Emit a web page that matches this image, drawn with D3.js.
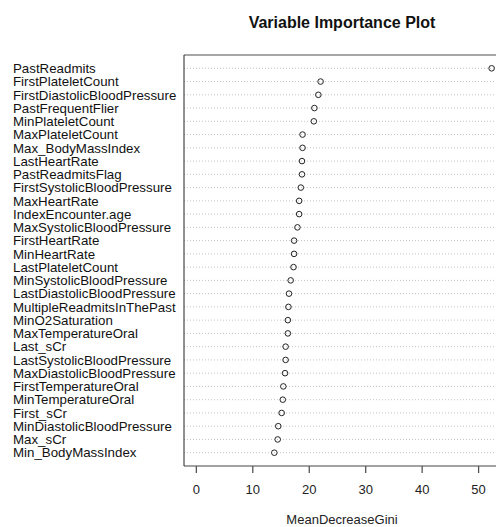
<!DOCTYPE html>
<html>
<head>
<meta charset="utf-8">
<script src="https://cdn.jsdelivr.net/npm/d3@7"></script>
<style>
  body { margin: 0; background: #fff; }
  text { font-family: "Liberation Sans", Arial, sans-serif; }
</style>
</head>
<body>
<div id="graph"></div>
<script>
// variable names, top to bottom
let variables = ["PastReadmits", "FirstPlateletCount", "FirstDiastolicBloodPressure", "PastFrequentFlier",
  "MinPlateletCount", "MaxPlateletCount", "Max_BodyMassIndex", "LastHeartRate", "PastReadmitsFlag",
  "FirstSystolicBloodPressure", "MaxHeartRate", "IndexEncounter.age", "MaxSystolicBloodPressure",
  "FirstHeartRate", "MinHeartRate", "LastPlateletCount", "MinSystolicBloodPressure",
  "LastDiastolicBloodPressure", "MultipleReadmitsInThePast", "MinO2Saturation", "MaxTemperatureOral",
  "Last_sCr", "LastSystolicBloodPressure", "MaxDiastolicBloodPressure", "FirstTemperatureOral",
  "MinTemperatureOral", "First_sCr", "MinDiastolicBloodPressure", "Max_sCr", "Min_BodyMassIndex"];

let gini = [52.4, 22.1, 21.7, 21.0, 20.9, 18.9, 18.9, 18.8, 18.8, 18.6, 18.3, 18.3, 18.0,
  17.4, 17.4, 17.3, 16.8, 16.5, 16.4, 16.3, 16.3, 15.9, 15.9, 15.8, 15.5, 15.4, 15.2, 14.6, 14.5, 13.9];

let ticks = [0, 10, 20, 30, 40, 50];

let width = 496, height = 527;

let svg = d3.select("#graph")
    .append("svg")
    .attr("width", width)
    .attr("height", height);

let x = d3.scaleLinear()
    .domain([-2.1, 54.5])
    .range([184, 503.5]);

let y = d3.scalePoint()
    .domain(variables)
    .range([68.3, 452.7]);

let boxTop = 55, boxBottom = 466;

// dotted guide lines
svg.append("g")
  .selectAll("line")
  .data(variables)
  .enter()
  .append("line")
    .attr("x1", x.range()[0])
    .attr("x2", x.range()[1])
    .attr("y1", d => y(d))
    .attr("y2", d => y(d))
    .attr("stroke", "#c4c4c4")
    .attr("stroke-width", 1)
    .attr("stroke-dasharray", "1,2");

// box
svg.append("line").attr("x1", x.range()[0]).attr("x2", x.range()[1])
  .attr("y1", boxTop).attr("y2", boxTop).attr("stroke", "#888").attr("stroke-width", 1.5);
svg.append("line").attr("x1", x.range()[0]).attr("x2", x.range()[1])
  .attr("y1", boxBottom).attr("y2", boxBottom).attr("stroke", "#444").attr("stroke-width", 1);
svg.append("line").attr("x1", x.range()[0]).attr("x2", x.range()[0])
  .attr("y1", boxTop).attr("y2", boxBottom).attr("stroke", "#222").attr("stroke-width", 1);

// x axis
let xAxis = svg.append("g")
    .attr("transform", "translate(0," + boxBottom + ")")
    .call(d3.axisBottom(x).tickValues(ticks).tickSize(7).tickPadding(12));
xAxis.select(".domain").remove();
xAxis.selectAll(".tick line").attr("stroke", "#555").attr("stroke-width", 1.3);
xAxis.selectAll(".tick text")
    .style("font-size", "13px")
    .attr("fill", "#222");

// labels
svg.append("g")
  .selectAll("text")
  .data(variables)
  .enter()
  .append("text")
    .attr("x", 13)
    .attr("y", d => y(d))
    .attr("dy", "0.36em")
    .style("font-size", "13.3px")
    .attr("fill", "#111")
    .text(d => d);

// points
svg.append("g")
  .selectAll("circle")
  .data(gini)
  .enter()
  .append("circle")
    .attr("cx", d => x(d))
    .attr("cy", (d, i) => y(variables[i]))
    .attr("r", 2.8)
    .attr("fill", "none")
    .attr("stroke", "#222")
    .attr("stroke-width", 1);

svg.append("text")
    .attr("x", 342)
    .attr("y", 28)
    .attr("text-anchor", "middle")
    .style("font-size", "16px")
    .style("font-weight", "bold")
    .attr("fill", "#111")
    .text("Variable Importance Plot");

svg.append("text")
    .attr("x", 342)
    .attr("y", 524)
    .attr("text-anchor", "middle")
    .style("font-size", "13px")
    .attr("fill", "#222")
    .text("MeanDecreaseGini");
</script>
</body>
</html>
